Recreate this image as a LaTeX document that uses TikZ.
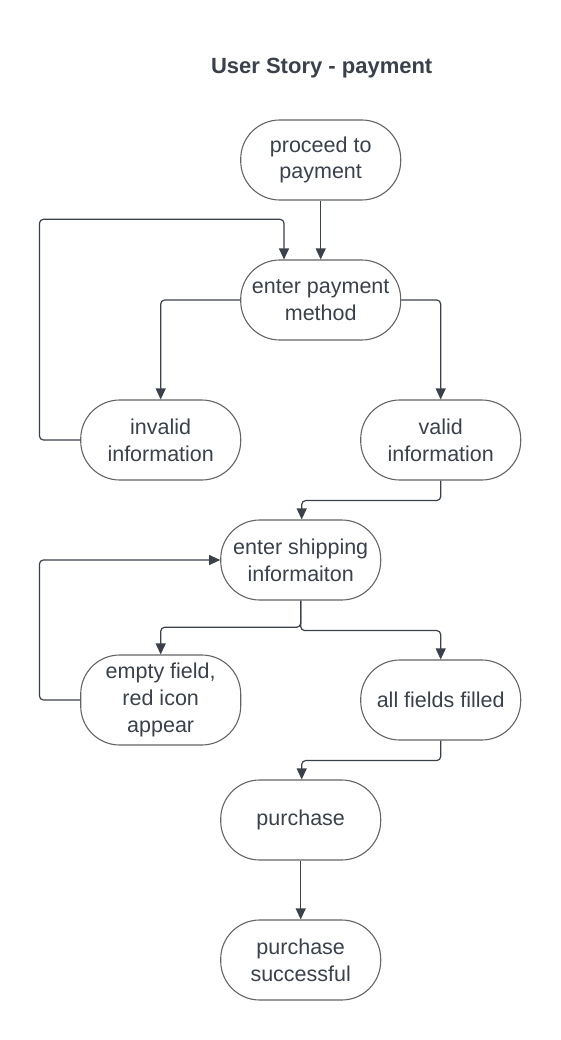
\documentclass[tikz,border=0pt]{standalone}
\usepackage{fontspec}
\setmainfont{Liberation Sans}
\definecolor{InkGray}{RGB}{58, 65, 74}
\definecolor{EdgeGray}{RGB}{100, 100, 100}
\usetikzlibrary{arrows.meta, positioning, calc}

\begin{document}
\begin{tikzpicture}[
        x=1pt, y=-1pt,
        stage/.style={rectangle, draw=EdgeGray, line width=1.1pt, rounded corners=39pt, minimum width=160pt, minimum height=80pt, inner sep=0pt, align=center, text=InkGray, font=\fontsize{21.5}{26.7}\selectfont},
        arrow/.style={-{Triangle[length=11pt, width=10pt]}, line width=1.2pt, InkGray, rounded corners=4pt}
    ]
        \useasboundingbox (0, 0) rectangle (561, 1040);
        \node[anchor=base, text=InkGray, font=\fontsize{22}{26}\selectfont\bfseries] (title) at (321.7, 74) {User Story - payment};

        % Payment part
        \node[stage] (proceed) at (320.7, 160) {proceed to\\payment};
        \node[stage] (paymethod) at (320.7, 300) {enter payment\\method};
        \node[stage] (invalid) at (160.7, 440) {invalid\\information};
        \node[stage] (valid) at (440.7, 440) {valid\\information};
        \draw[arrow] (proceed) -- (paymethod);
        \draw[arrow] (paymethod.west) -| (invalid.north);
        \draw[arrow] (paymethod.east) -| (valid.north);
        \draw[arrow] (invalid.west) -- ++(-40.7, 0) -- ++(0, -220.7) -| ([xshift=-36.7pt]paymethod.north);

        % Shipping part
        \node[stage] (shipping) at (300.7, 560) {enter shipping\\informaiton};
        \node[stage, minimum height=90pt] (empty) at (160.7, 700) {empty field,\\red icon\\appear};
        \node[stage] (filled) at (440.7, 700) {all fields filled};
        \draw[arrow] (valid.south) -- ++(0, 20) -| ([xshift=1pt]shipping.north);
        \draw[arrow] (shipping.south) -- ++(0, 26.7) -| (empty.north);
        \draw[arrow] (shipping.south) -- ++(0, 30) -| (filled.north);
        \draw[arrow] (empty.west) -- ++(-40.7, 0) |- (shipping.west);

        % Purchase part
        \node[stage] (purchase) at (300.7, 820) {purchase};
        \node[stage] (success) at (300.7, 960) {purchase\\successful};
        \draw[arrow] (filled.south) -- ++(0, 20) -| ([xshift=1pt]purchase.north);
        \draw[arrow] (purchase) -- (success);
    \end{tikzpicture}
\end{document}
